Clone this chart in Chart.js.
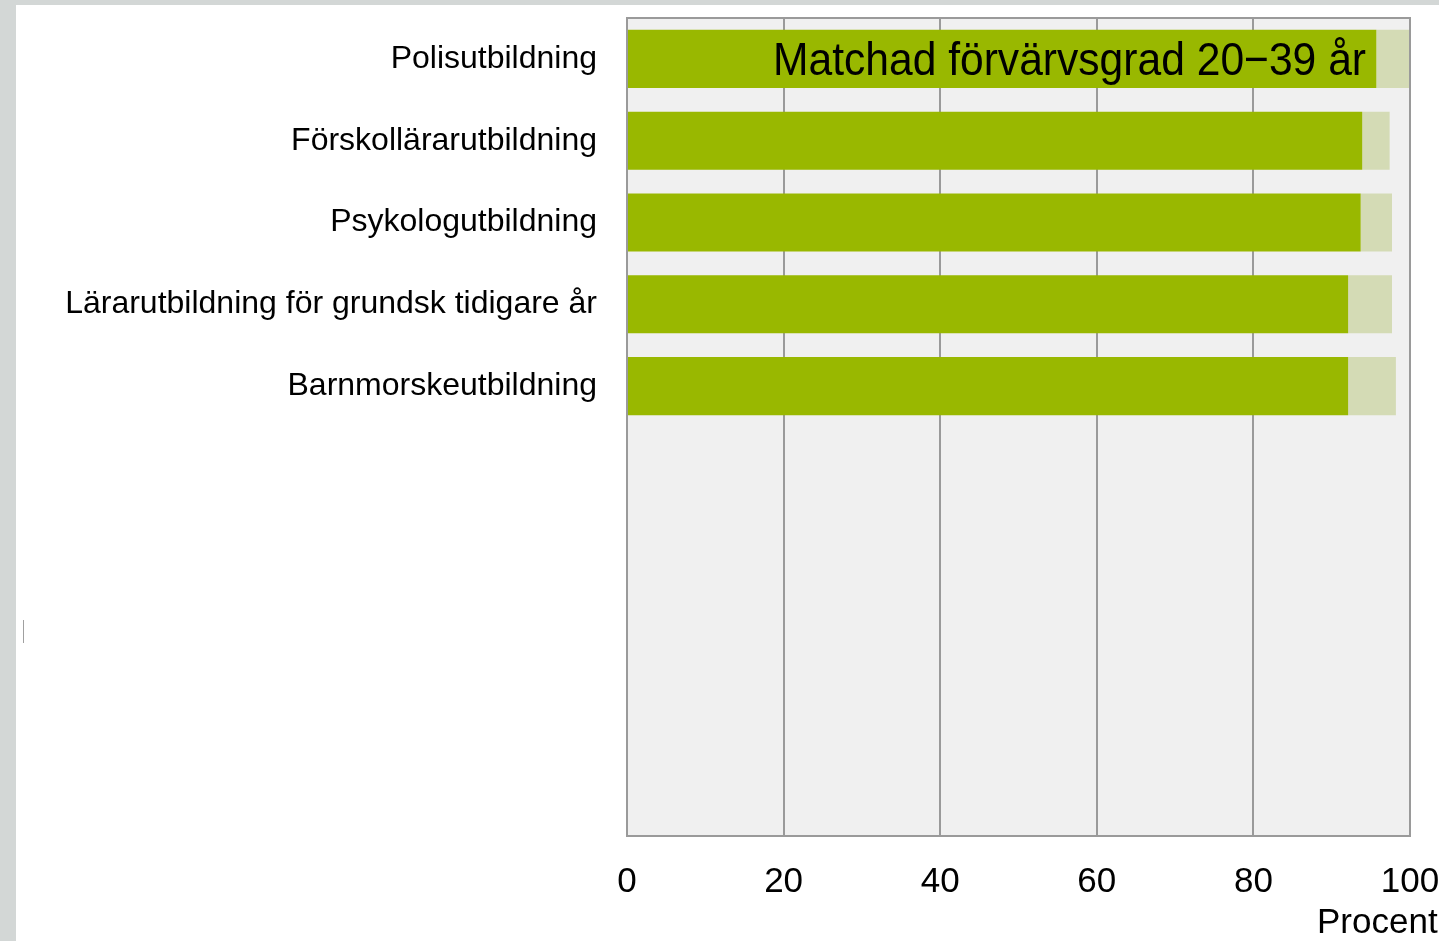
<!DOCTYPE html>
<html lang="sv">
<head>
<meta charset="utf-8">
<title>Matchad förvärvsgrad 20−39 år</title>
<script src="https://cdn.jsdelivr.net/npm/chart.js@4"></script>
<style>
    html, body {
        margin: 0;
        padding: 0;
        width: 1439px;
        height: 941px;
        overflow: hidden;
        background: #d3d7d6;
    }
    .chart-wrap {
        position: absolute;
        left: 16px;
        top: 5px;
        width: 1480px;
        height: 936px;
        background: #fff;
    }
    .cursor-mark {
        position: absolute;
        left: 23px;
        top: 620px;
        width: 1px;
        height: 23px;
        background: #a0a0a0;
    }
</style>
</head>
<body>
<div class="chart-wrap">
    <canvas id="matchChart" width="1480" height="936"></canvas>
</div>
<div class="cursor-mark"></div>
<script>
// Utbildningar (5 visas, resten tomma platser)
const utbildningar = [
    'Polisutbildning',
    'Förskollärarutbildning',
    'Psykologutbildning',
    'Lärarutbildning för grundsk tidigare år',
    'Barnmorskeutbildning',
    '', '', '', '', ''
];

// Matchad förvärvsgrad (procent)
const matchad = [95.7, 93.9, 93.7, 92.1, 92.1];

// Övrig förvärvsgrad ovanpå (procent)
const ovrigt = [4.3, 3.5, 4.0, 5.6, 6.1];

// X-axelns tickvärden
const xTicks = [0, 20, 40, 60, 80, 100];

const chartTitle = 'Matchad förvärvsgrad 20\u221239 år';
const axisTitle = 'Procent';

// Plot background, frame, title and axis title
const framePlugin = {
    id: 'frame',
    beforeDraw(chart) {
        const { ctx, chartArea: a } = chart;
        ctx.save();
        ctx.fillStyle = '#f0f0f0';
        ctx.fillRect(a.left, a.top, a.right - a.left, a.bottom - a.top);
        ctx.restore();
    },
    afterDraw(chart) {
        const { ctx, chartArea: a, scales } = chart;
        ctx.save();
        ctx.strokeStyle = '#9a9a9a';
        ctx.lineWidth = 2;
        ctx.strokeRect(a.left, a.top, a.right - a.left, a.bottom - a.top);

        // Title inside first bar
        ctx.font = '47px "Liberation Sans", Arial, sans-serif';
        ctx.fillStyle = '#000';
        ctx.textBaseline = 'middle';
        ctx.textAlign = 'right';
        const w = ctx.measureText(chartTitle).width;
        const sx = 593 / w;
        const tx = a.right - 44;
        const ty = scales.y.getPixelForValue(0) + 3;
        ctx.translate(tx, ty);
        ctx.scale(sx, 1);
        ctx.fillText(chartTitle, 0, 0);
        ctx.restore();

        // Axis title
        ctx.save();
        ctx.font = '35px "Liberation Sans", Arial, sans-serif';
        ctx.fillStyle = '#000';
        ctx.textBaseline = 'middle';
        ctx.textAlign = 'left';
        ctx.fillText(axisTitle, a.right - 93, 918);
        ctx.restore();
    }
};

const ctx = document.getElementById('matchChart');

new Chart(ctx, {
    type: 'bar',
    data: {
        labels: utbildningar,
        datasets: [
            {
                label: 'Matchad',
                data: matchad,
                backgroundColor: '#99b800',
                borderWidth: 0,
                categoryPercentage: 1,
                barPercentage: 0.71
            },
            {
                label: 'Övrig',
                data: ovrigt,
                backgroundColor: '#d4dbb5',
                borderWidth: 0,
                categoryPercentage: 1,
                barPercentage: 0.71
            }
        ]
    },
    options: {
        indexAxis: 'y',
        responsive: false,
        animation: false,
        devicePixelRatio: 1,
        layout: {
            padding: { top: 13, right: 86, left: 0, bottom: 0 }
        },
        plugins: {
            legend: { display: false },
            tooltip: { enabled: false }
        },
        scales: {
            x: {
                stacked: true,
                min: 0,
                max: 100,
                afterBuildTicks: scale => {
                    scale.ticks = xTicks.map(v => ({ value: v }));
                },
                afterFit: scale => {
                    scale.height = 105;
                    scale.paddingLeft = 0;
                    scale.paddingRight = 0;
                },
                grid: {
                    color: '#9a9a9a',
                    lineWidth: 2,
                    drawTicks: false
                },
                border: { display: false },
                ticks: {
                    color: '#000',
                    padding: 25,
                    maxRotation: 0,
                    font: { family: '"Liberation Sans", Arial, sans-serif', size: 35 }
                }
            },
            y: {
                stacked: true,
                afterFit: scale => {
                    scale.width = 611;
                    scale.paddingTop = 0;
                    scale.paddingBottom = 0;
                },
                grid: { display: false, drawTicks: false },
                border: { display: false },
                ticks: {
                    color: '#000',
                    padding: 30,
                    autoSkip: false,
                    font: { family: '"Liberation Sans", Arial, sans-serif', size: 32 }
                }
            }
        }
    },
    plugins: [framePlugin]
});
</script>
</body>
</html>
